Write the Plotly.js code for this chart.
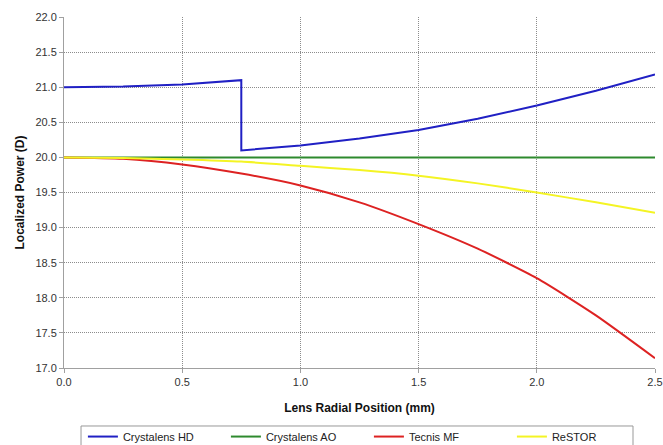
<!DOCTYPE html>
<html>
<head>
<meta charset="utf-8">
<script src="https://cdn.plot.ly/plotly-3.0.1.min.js"></script>
<style>html,body{margin:0;padding:0;background:#fff;}#chart{width:663px;height:445px;}</style>
</head>
<body>
<div id="chart"></div>
<script>
const xHD = [0, 0.25, 0.5, 0.75, 0.75, 1.0, 1.25, 1.5, 1.75, 2.0, 2.25, 2.5];
const yHD = [21.0, 21.01, 21.04, 21.1, 20.1, 20.17, 20.27, 20.39, 20.55, 20.74, 20.95, 21.18];
const xPos = [0, 0.25, 0.5, 0.75, 1.0, 1.25, 1.5, 1.75, 2.0, 2.25, 2.5];
const yAO = [20.0, 20.0, 20.0, 20.0, 20.0, 20.0, 20.0, 20.0, 20.0, 20.0, 20.0];
const yTecnis = [20.0, 19.98, 19.9, 19.77, 19.6, 19.36, 19.05, 18.7, 18.28, 17.75, 17.14];
const yRestor = [20.0, 19.99, 19.97, 19.94, 19.88, 19.82, 19.74, 19.63, 19.5, 19.36, 19.21];
const names = ["Crystalens HD", "Crystalens AO", "Tecnis MF", "ReSTOR"];
const colors = ["#2020c4", "#2e8a2e", "#dd2222", "#f4f424"];

const traces = [
  {x: xHD, y: yHD, name: names[0], line: {color: colors[0], width: 2}},
  {x: xPos, y: yAO, name: names[1], line: {color: colors[1], width: 2}},
  {x: xPos, y: yTecnis, name: names[2], line: {color: colors[2], width: 2, shape: 'spline', smoothing: 0.6}},
  {x: xPos, y: yRestor, name: names[3], line: {color: colors[3], width: 2, shape: 'spline', smoothing: 0.6}}
].map(t => Object.assign({type: 'scatter', mode: 'lines'}, t));

const layout = {
  width: 663, height: 445,
  margin: {l: 64, r: 8, t: 17, b: 77, autoexpand: false},
  paper_bgcolor: '#fff', plot_bgcolor: '#fff',
  font: {family: 'Liberation Sans, Arial, sans-serif', color: '#222', size: 11},
  showlegend: true,
  xaxis: {
    range: [0, 2.5], dtick: 0.5, tickformat: '.1f',
    showgrid: true, gridcolor: '#8c8c8c', griddash: '1px,1px', gridwidth: 1,
    showline: true, linecolor: '#a0a0a0', linewidth: 1,
    ticks: 'outside', ticklen: 4, tickcolor: '#a0a0a0',
    zeroline: false, mirror: false,
    title: {text: '<b>Lens Radial Position (mm)</b>', font: {size: 12, color: '#111'}, standoff: 16},
    tickfont: {size: 11, color: '#333'}
  },
  yaxis: {
    range: [17, 22], dtick: 0.5, tickformat: '.1f',
    showgrid: true, gridcolor: '#8c8c8c', griddash: '1px,1px', gridwidth: 1,
    showline: true, linecolor: '#a0a0a0', linewidth: 1,
    ticks: 'outside', ticklen: 4, tickcolor: '#a0a0a0',
    zeroline: false,
    title: {text: '<b>Localized Power (D)</b>', font: {size: 12, color: '#111'}, standoff: 8},
    tickfont: {size: 11, color: '#333'}
  },
  legend: {
    orientation: 'h', x: 0.032, xanchor: 'left', y: -0.154, yanchor: 'top',
    borderwidth: 0, bgcolor: 'rgba(0,0,0,0)',
    font: {size: 11, color: '#222'},
    itemwidth: 30, entrywidth: 98, traceorder: 'normal'
  },
  shapes: [{
    type: 'rect', xref: 'paper', yref: 'paper',
    x0: 0.0288, x1: 0.9628, y0: -0.1652, y1: -0.26,
    line: {color: '#999', width: 1}, fillcolor: 'rgba(0,0,0,0)', layer: 'below'
  }]
};

Plotly.newPlot('chart', traces, layout, {displayModeBar: false, staticPlot: true});
</script>
</body>
</html>
